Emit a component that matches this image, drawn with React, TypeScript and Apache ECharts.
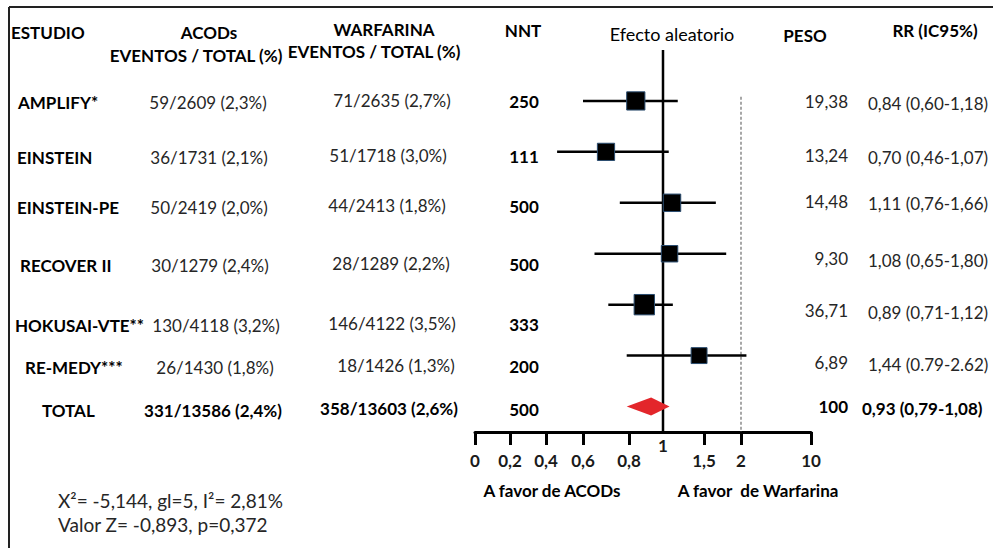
import React, { useEffect, useRef } from "react";
import * as echarts from "echarts";

// ---------- data ----------
const studies = ["AMPLIFY*", "EINSTEIN", "EINSTEIN-PE", "RECOVER II", "HOKUSAI-VTE**", "RE-MEDY***", "TOTAL"];
const acodText = ["59/2609 (2,3%)", "36/1731 (2,1%)", "50/2419 (2,0%)", "30/1279 (2,4%)", "130/4118 (3,2%)", "26/1430 (1,8%)", "331/13586 (2,4%)"];
const warfText = ["71/2635 (2,7%)", "51/1718 (3,0%)", "44/2413 (1,8%)", "28/1289 (2,2%)", "146/4122 (3,5%)", "18/1426 (1,3%)", "358/13603 (2,6%)"];
const nnt = ["250", "111", "500", "500", "333", "200", "500"];
const weights = [19.38, 13.24, 14.48, 9.3, 36.71, 6.89, 100];
const rr = [0.84, 0.7, 1.11, 1.08, 0.89, 1.44, 0.93];
const ciLow = [0.6, 0.46, 0.76, 0.65, 0.71, 0.79, 0.79];
const ciHigh = [1.18, 1.07, 1.66, 1.8, 1.12, 2.62, 1.08];
const rrText = ["0,84 (0,60-1,18)", "0,70 (0,46-1,07)", "1,11 (0,76-1,66)", "1,08 (0,65-1,80)", "0,89 (0,71-1,12)", "1,44 (0.79-2.62)", "0,93 (0,79-1,08)"];
const tickValues = [0, 0.2, 0.4, 0.6, 0.8, 1, 1.5, 2, 10];
const tickLabels = ["0", "0,2", "0,4", "0,6", "0,8", "1", "1,5", "2", "10"];
const statsLines = ["X\u00b2= -5,144, gl=5, I\u00b2= 2,81%", "Valor Z= -0,893, p=0,372"];

// ---------- layout ----------
const W = 993;
const H = 548;
const FONT = "Lato, 'Open Sans', sans-serif";
const TICK_POS = [0, 35, 71, 108, 154, 188, 229, 266, 336]; // axis-space position of each tick
const AXIS_LEFT = 475;
const AXIS_RIGHT = 811;
const AXIS_Y = 432;
const GRID_TOP = 50;
const LEFT_ROW_Y = [102, 157, 207, 265, 325, 367, 410];
const RIGHT_ROW_Y = [101, 155, 201, 258, 310, 362, 406];
const STUDY_X = [18, 17, 17, 20, 15, 25, 42];
const ACOD_X = [208, 209, 209, 210, 216, 215, 213];
const WARF_X = [392, 388, 387, 391, 392, 396, 389];

function toAxis(v: number): number {
  for (let i = 0; i < tickValues.length - 1; i++) {
    const a = tickValues[i];
    const b = tickValues[i + 1];
    if (v <= b || i === tickValues.length - 2) {
      return TICK_POS[i] + ((v - a) / (b - a)) * (TICK_POS[i + 1] - TICK_POS[i]);
    }
  }
  return 0;
}

function fmtWeight(w: number): string {
  return Number.isInteger(w) ? String(w) : w.toFixed(2).replace(".", ",");
}

function txt(text: string, x: number, y: number, opts: any = {}) {
  return {
    type: "text",
    x,
    y,
    silent: true,
    style: {
      text,
      fill: opts.fill || "#262626",
      font: `${opts.bold ? "bold " : ""}${opts.size || 17}px ${FONT}`,
      align: opts.align || "center",
      verticalAlign: "middle",
    },
  };
}

export default function App() {
  const ref = useRef<HTMLDivElement>(null);
  useEffect(() => {
    if (!ref.current) return;
    document.body.style.margin = "0";
    const chart = echarts.init(ref.current, undefined, { renderer: "svg" });
    const last = studies.length - 1;

    const studyData = studies.slice(0, last).map((_, i) => [toAxis(rr[i]), i, toAxis(ciLow[i]), toAxis(ciHigh[i]), weights[i]]);
    const totalData = [[toAxis(rr[last]), last, toAxis(ciLow[last]), toAxis(ciHigh[last])]];

    const tickPosNoOne = TICK_POS.filter((_, i) => tickValues[i] !== 1);
    const onePos = TICK_POS[tickValues.indexOf(1)];
    const labelFor = (v: number) => {
      const idx = TICK_POS.indexOf(v);
      return idx >= 0 ? tickLabels[idx] : "";
    };

    const graphics: any[] = [];
    // frame (top and left edges)
    graphics.push({ type: "line", silent: true, shape: { x1: 9, y1: 7, x2: W, y2: 7 }, style: { stroke: "#222", lineWidth: 2 } });
    graphics.push({ type: "line", silent: true, shape: { x1: 9, y1: 7, x2: 9, y2: H }, style: { stroke: "#222", lineWidth: 2 } });
    // headers
    const hd = { bold: true, fill: "#000" };
    graphics.push(txt("ESTUDIO", 11, 32, { ...hd, align: "left" }));
    graphics.push(txt("ACODs", 209, 32, hd));
    graphics.push(txt("EVENTOS / TOTAL (%)", 196, 55, hd));
    graphics.push(txt("WARFARINA", 384, 29, hd));
    graphics.push(txt("EVENTOS / TOTAL (%)", 374, 51, hd));
    graphics.push(txt("NNT", 523, 30, hd));
    graphics.push(txt("Efecto aleatorio", 672, 34, { fill: "#000", size: 18 }));
    graphics.push(txt("PESO", 805, 35, hd));
    graphics.push(txt("RR (IC95%)", 935, 30, hd));
    // rows
    studies.forEach((s, i) => {
      const isTotal = i === last;
      const ly = LEFT_ROW_Y[i];
      const ry = RIGHT_ROW_Y[i];
      const valFill = isTotal ? "#000" : "#262626";
      graphics.push(txt(s, STUDY_X[i], ly, { bold: true, fill: "#000", align: "left" }));
      graphics.push(txt(acodText[i], ACOD_X[i], ly, { bold: isTotal, fill: valFill }));
      graphics.push(txt(warfText[i], WARF_X[i], ly - 2, { bold: isTotal, fill: valFill }));
      graphics.push(txt(nnt[i], 524, ly - 1, { bold: true, fill: "#000" }));
      graphics.push(txt(fmtWeight(weights[i]), 848, ry, { bold: isTotal, fill: valFill, align: "right" }));
      graphics.push(txt(rrText[i], isTotal ? 862 : 868, ry + 2, { bold: isTotal, fill: valFill, align: "left" }));
    });
    // axis captions
    graphics.push(txt("A favor de ACODs", 552, 490, { bold: true, fill: "#000" }));
    graphics.push(txt("A favor  de Warfarina", 758, 490, { bold: true, fill: "#000" }));
    // stats
    graphics.push(txt(statsLines[0], 58, 500, { align: "left", size: 19 }));
    graphics.push(txt(statsLines[1], 58, 524, { align: "left", size: 19 }));

    const option: any = {
      animation: false,
      backgroundColor: "#fff",
      grid: { left: AXIS_LEFT, right: W - AXIS_RIGHT, top: GRID_TOP, bottom: H - AXIS_Y, containLabel: false },
      xAxis: [
        {
          type: "value",
          min: 0,
          max: TICK_POS[TICK_POS.length - 1],
          position: "bottom",
          splitLine: { show: false },
          axisLine: { show: true, onZero: false, lineStyle: { color: "#000", width: 3 } },
          axisTick: { show: true, customValues: tickPosNoOne, length: 13, lineStyle: { color: "#000", width: 3 } },
          axisLabel: {
            show: true,
            customValues: tickPosNoOne,
            formatter: labelFor,
            margin: 20,
            color: "#1a1a1a",
            fontFamily: FONT,
            fontWeight: "bold",
            fontSize: 17,
          },
        },
        {
          type: "value",
          min: 0,
          max: TICK_POS[TICK_POS.length - 1],
          position: "bottom",
          splitLine: { show: false },
          axisLine: { show: false, onZero: false },
          axisTick: { show: false },
          axisLabel: {
            show: true,
            customValues: [onePos],
            formatter: labelFor,
            margin: 5,
            color: "#1a1a1a",
            fontFamily: FONT,
            fontWeight: "bold",
            fontSize: 17,
          },
        },
      ],
      yAxis: {
        type: "value",
        inverse: true,
        min: -1,
        max: 6.5,
        show: false,
      },
      series: [
        {
          type: "line",
          xAxisIndex: 0,
          data: [[toAxis(1), -1], [toAxis(1), 6.5]],
          symbol: "none",
          lineStyle: { color: "#000", width: 2.5 },
          silent: true,
          z: 1,
        },
        {
          type: "line",
          xAxisIndex: 0,
          data: [[toAxis(2), -0.08], [toAxis(2), 6.5]],
          symbol: "none",
          lineStyle: { color: "#8a8a8a", width: 1.5, type: [3, 2] },
          silent: true,
          z: 1,
        },
        {
          type: "custom",
          xAxisIndex: 0,
          data: studyData,
          z: 3,
          renderItem: (params: any, api: any) => {
            const y = api.value(1);
            const p = api.coord([api.value(0), y]);
            const l = api.coord([api.value(2), y]);
            const h = api.coord([api.value(3), y]);
            const s = 12.5 + Math.sqrt(api.value(4)) * 1.3;
            return {
              type: "group",
              children: [
                { type: "line", shape: { x1: l[0], y1: l[1], x2: h[0], y2: h[1] }, style: { stroke: "#000", lineWidth: 2.5 } },
                { type: "rect", shape: { x: p[0] - s / 2, y: p[1] - s / 2, width: s, height: s }, style: { fill: "#000", stroke: "#2b4d70", lineWidth: 1 } },
              ],
            };
          },
        },
        {
          type: "custom",
          xAxisIndex: 0,
          data: totalData,
          z: 2,
          renderItem: (params: any, api: any) => {
            const y = api.value(1);
            const p = api.coord([api.value(0), y]);
            const l = api.coord([api.value(2), y]);
            const h = api.coord([api.value(3), y]);
            const hh = 9;
            return {
              type: "polygon",
              shape: { points: [[l[0], l[1]], [p[0], p[1] - hh], [h[0], h[1]], [p[0], p[1] + hh]] },
              style: { fill: "#e3262b" },
            };
          },
        },
      ],
      graphic: graphics,
    };
    chart.setOption(option);
    return () => chart.dispose();
  }, []);
  return (
    <div
      ref={ref}
      style={{ position: "fixed", left: 0, top: 0, width: W, height: H, background: "#fff" }}
    />
  );
}
